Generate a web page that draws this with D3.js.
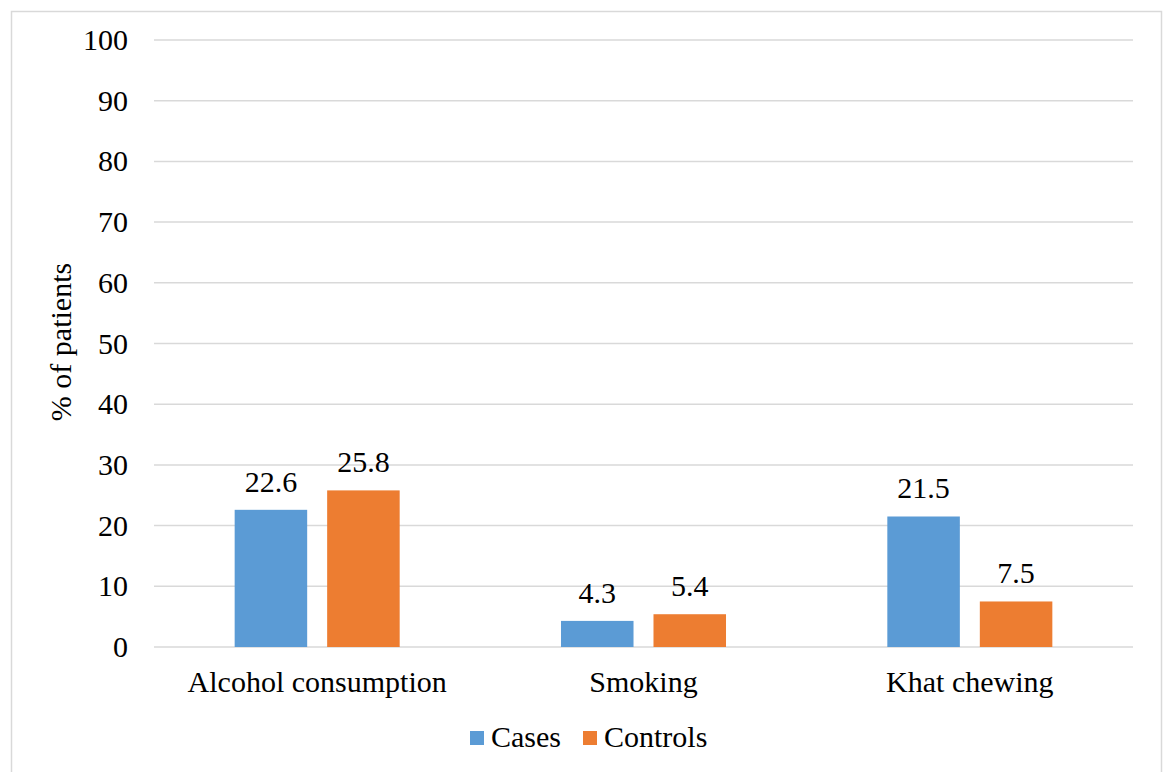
<!DOCTYPE html>
<html>
<head>
<meta charset="utf-8">
<script src="https://cdn.jsdelivr.net/npm/d3@7"></script>
</head>
<body style="margin:0">
<script>
var categories = ["Alcohol consumption", "Smoking", "Khat chewing"];
var seriesNames = ["Cases", "Controls"];
var cases = [22.6, 4.3, 21.5];
var controls = [25.8, 5.4, 7.5];
var yTicks = [0, 10, 20, 30, 40, 50, 60, 70, 80, 90, 100];
var colors = ["#5B9BD5", "#ED7D31"];

var W = 1163, H = 772;
var fontSize = 30;

var svg = d3.select("body")
  .append("svg")
  .attr("width", W)
  .attr("height", H);

// chart border
svg.append("rect")
  .attr("x", 11.5).attr("y", 11.5)
  .attr("width", 1150).attr("height", 775)
  .attr("fill", "none")
  .attr("stroke", "#D9D9D9")
  .attr("stroke-width", 1.5);

var y = d3.scaleLinear().domain([0, 100]).range([647, 40]);
var x0 = d3.scaleBand().domain(categories).range([154, 1133]).padding(0);
var x1 = d3.scaleBand().domain(seriesNames)
  .range([0, x0.bandwidth()])
  .paddingInner(0.216)
  .paddingOuter(0.872);

// gridlines
svg.append("g")
  .selectAll("line")
  .data(yTicks)
  .enter()
  .append("line")
  .attr("x1", 154).attr("x2", 1133)
  .attr("y1", function(d) { return y(d); })
  .attr("y2", function(d) { return y(d); })
  .attr("stroke", "#D9D9D9")
  .attr("stroke-width", 1.5);

// y tick labels
svg.selectAll("text.ytick")
  .data(yTicks)
  .enter()
  .append("text")
  .attr("class", "ytick")
  .attr("x", 128)
  .attr("y", function(d) { return y(d) + 10; })
  .attr("text-anchor", "end")
  .attr("font-size", fontSize)
  .attr("font-family", "serif")
  .text(function(d) { return d; });

// y axis title
svg.append("text")
  .attr("transform", "translate(71,342) rotate(-90)")
  .attr("text-anchor", "middle")
  .attr("font-size", fontSize)
  .attr("font-family", "serif")
  .text("% of patients");

var rows = categories.map(function(c, i) {
  return { cat: c, vals: [
    { s: "Cases", v: cases[i], c: colors[0] },
    { s: "Controls", v: controls[i], c: colors[1] }
  ] };
});

var groups = svg.append("g")
  .selectAll("g")
  .data(rows)
  .enter()
  .append("g")
  .attr("transform", function(d) { return "translate(" + x0(d.cat) + ",0)"; });

groups.selectAll("rect")
  .data(function(d) { return d.vals; })
  .enter()
  .append("rect")
  .attr("x", function(d) { return x1(d.s); })
  .attr("width", x1.bandwidth())
  .attr("y", function(d) { return y(d.v); })
  .attr("height", function(d) { return y(0) - y(d.v); })
  .attr("fill", function(d) { return d.c; });

groups.selectAll("text")
  .data(function(d) { return d.vals; })
  .enter()
  .append("text")
  .attr("x", function(d) { return x1(d.s) + x1.bandwidth() / 2; })
  .attr("y", function(d) { return y(d.v) - 18; })
  .attr("text-anchor", "middle")
  .attr("font-size", fontSize)
  .attr("font-family", "serif")
  .text(function(d) { return d.v.toFixed(1); });

// category labels
svg.selectAll("text.cat")
  .data(categories)
  .enter()
  .append("text")
  .attr("class", "cat")
  .attr("x", function(d) { return x0(d) + x0.bandwidth() / 2; })
  .attr("y", 692)
  .attr("text-anchor", "middle")
  .attr("font-size", fontSize)
  .attr("font-family", "serif")
  .text(function(d) { return d; });

// legend
var legendX = [470, 583];
var legend = svg.append("g")
  .selectAll("g")
  .data(seriesNames)
  .enter()
  .append("g")
  .attr("transform", function(d, i) { return "translate(" + legendX[i] + ",731)"; });

legend.append("rect")
  .attr("width", 14).attr("height", 14)
  .attr("fill", function(d, i) { return colors[i]; });

legend.append("text")
  .attr("x", 21)
  .attr("y", 16)
  .attr("font-size", fontSize)
  .attr("font-family", "serif")
  .text(function(d) { return d; });
</script>
</body>
</html>
